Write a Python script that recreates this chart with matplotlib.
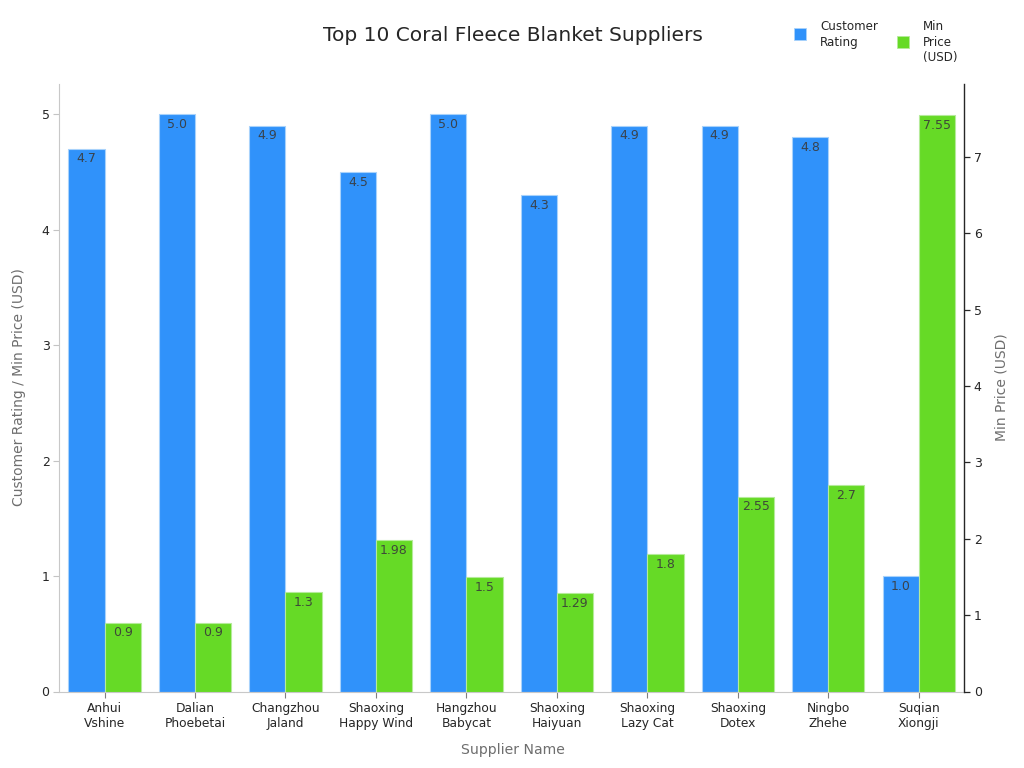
import matplotlib
matplotlib.use("Agg")
import matplotlib.pyplot as plt
import numpy as np
from matplotlib.lines import Line2D

suppliers = ["Anhui\nVshine", "Dalian\nPhoebetai", "Changzhou\nJaland", "Shaoxing\nHappy Wind",
             "Hangzhou\nBabycat", "Shaoxing\nHaiyuan", "Shaoxing\nLazy Cat", "Shaoxing\nDotex",
             "Ningbo\nZhehe", "Suqian\nXiongji"]
ratings = [4.7, 5.0, 4.9, 4.5, 5.0, 4.3, 4.9, 4.9, 4.8, 1.0]
prices = [0.9, 0.9, 1.3, 1.98, 1.5, 1.29, 1.8, 2.55, 2.7, 7.55]
rating_labels = ["4.7", "5.0", "4.9", "4.5", "5.0", "4.3", "4.9", "4.9", "4.8", "1.0"]
price_labels = ["0.9", "0.9", "1.3", "1.98", "1.5", "1.29", "1.8", "2.55", "2.7", "7.55"]

BLUE = "#3092fa"
GREEN = "#66da26"
EDGE_B = "#a8d2fb"
EDGE_G = "#b5eb9a"
DARK = "#262626"
GREY = "#6e6e6e"

fig = plt.figure(figsize=(10.24, 7.68), dpi=100)
W, H = 1024, 768
ax = fig.add_axes([59.3/W, 1-691.5/H, 904.7/W, 607.5/H])
ax2 = ax.twinx()
x = np.arange(len(suppliers))
w = 0.4
b1 = ax.bar(x-w/2, ratings, w, color=BLUE, edgecolor=EDGE_B, linewidth=0.8, zorder=2)
b2 = ax2.bar(x+w/2, prices, w, color=GREEN, edgecolor=EDGE_G, linewidth=0.8, zorder=2)
ax.set_xlim(-0.5, 9.5)
ax.set_ylim(0, 607.5/115.45)
ax2.set_ylim(0, 607.5/76.35)
ax.set_yticks(range(6))
ax2.set_yticks(range(8))
ax.set_xticks(x)
ax.set_xticklabels(suppliers, fontsize=8.8, color=DARK, linespacing=1.2)
ax.tick_params(axis="x", length=4, color="#7f7f7f", width=0.8, pad=3.5)
ax.tick_params(axis="y", length=4, color="#c4c4c4", width=0.8, labelsize=9, labelcolor=DARK, pad=3)
ax2.tick_params(axis="y", length=4, color=DARK, width=0.9, labelsize=9, labelcolor=DARK, pad=3)

for a in (ax, ax2):
    a.spines["top"].set_visible(False)
for s in ("left", "bottom"):
    ax.spines[s].set_color("#c8c8c8")
    ax2.spines[s].set_visible(False)
ax.spines["right"].set_visible(False)
ax2.spines["right"].set_color(DARK)
ax2.spines["right"].set_linewidth(1.0)

for bars, labels, a in ((b1, rating_labels, ax), (b2, price_labels, ax2)):
    for r, t in zip(bars, labels):
        a.annotate(t, (r.get_x()+r.get_width()/2, r.get_height()), xytext=(0, -2.6),
                   textcoords="offset points", ha="center", va="top", fontsize=9,
                   color="#3a3a3a", alpha=0.9, zorder=5)

fig.text(512.5/W, 1-35.5/H, "Top 10 Coral Fleece Blanket Suppliers", ha="center", va="center",
         fontsize=14.5, color=DARK)
fig.text(512.5/W, 1-750/H, "Supplier Name", ha="center", va="center", fontsize=10.1, color=GREY)
fig.text(19.5/W, 1-387/H, "Customer Rating / Min Price (USD)", rotation=90, ha="center", va="center",
         fontsize=10, color=GREY)
fig.text(1001.5/W, 1-387/H, "Min Price (USD)", rotation=90, ha="center", va="center",
         fontsize=10, color=GREY)

# legend
for px, py, col, ec, label, ly in ((800, 33.5, BLUE, EDGE_B, "Customer\nRating", 34.5),
                                   (903, 41.5, GREEN, EDGE_G, "Min\nPrice\n(USD)", 42.5)):
    fig.add_artist(Line2D([px/W], [1-py/H], marker="s", markersize=8, markerfacecolor=col,
                          markeredgecolor=ec, markeredgewidth=0.6, linestyle="none"))
    fig.text((px+20)/W, 1-ly/H, label, ha="left", va="center", fontsize=8.6, color=DARK, linespacing=1.25)

fig.savefig("out.png", dpi=100, facecolor="white")
